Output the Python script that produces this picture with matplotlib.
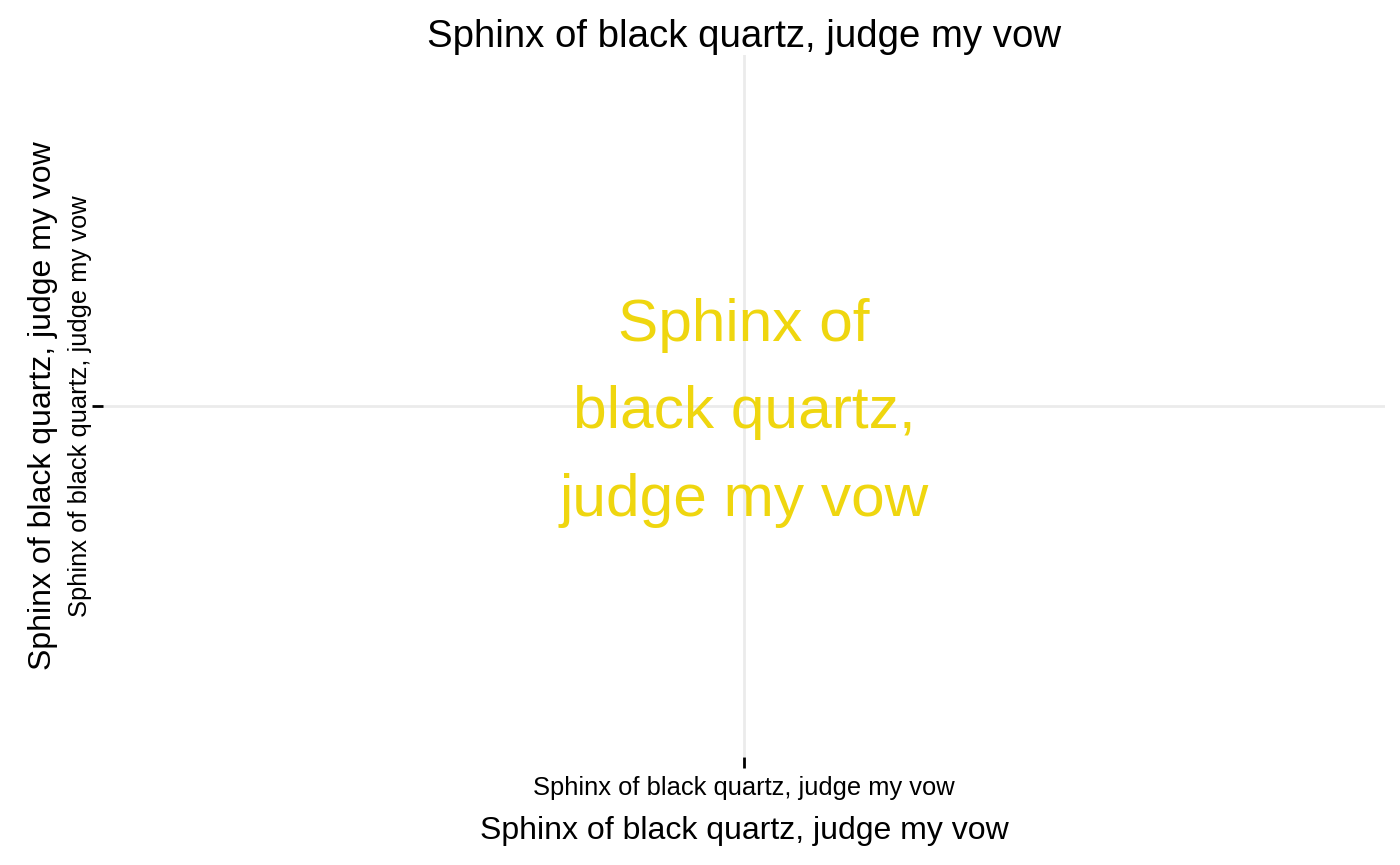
import matplotlib
matplotlib.use("Agg")
import matplotlib.pyplot as plt

plt.rcParams['font.family'] = ['Liberation Sans', 'DejaVu Sans']

text = "Sphinx of black quartz, judge my vow"
label_text = "Sphinx of\nblack quartz,\njudge my vow"
x_cats = [text]
y_cats = [text]
label_color = "#EFD60F"

fig = plt.figure(figsize=(14, 8.65), dpi=100)
ax = fig.add_axes([103/1400, 1 - 757/865, (1385-103)/1400, (757-55)/865])
ax.set_xlim(-0.5, 0.5)
ax.set_ylim(-0.5, 0.5)
ax.set_xticks([0])
ax.set_yticks([0])
ax.set_xticklabels(x_cats, fontsize=18.35)
ax.set_yticklabels(y_cats, fontsize=18.35, rotation=90, va='center')
for s in ax.spines.values():
    s.set_visible(False)
ax.grid(True, color='#EBEBEB', linewidth=2)
ax.set_axisbelow(True)
ax.tick_params(axis='x', length=8, width=2, color='black', pad=6)
ax.tick_params(axis='y', length=8, width=2, color='black', pad=0)
ax.annotate(label_text, xy=(0, 0), xytext=(0, -5), textcoords='offset points',
            color=label_color, fontsize=43.5, ha='center', va='center',
            linespacing=1.75)
ax.set_xlabel(text, fontsize=23, labelpad=11.5)
ax.set_ylabel(text, fontsize=23, labelpad=7)
ax.set_title(text, fontsize=27.6, pad=2)
fig.savefig("out.png", dpi=100, facecolor='white')
